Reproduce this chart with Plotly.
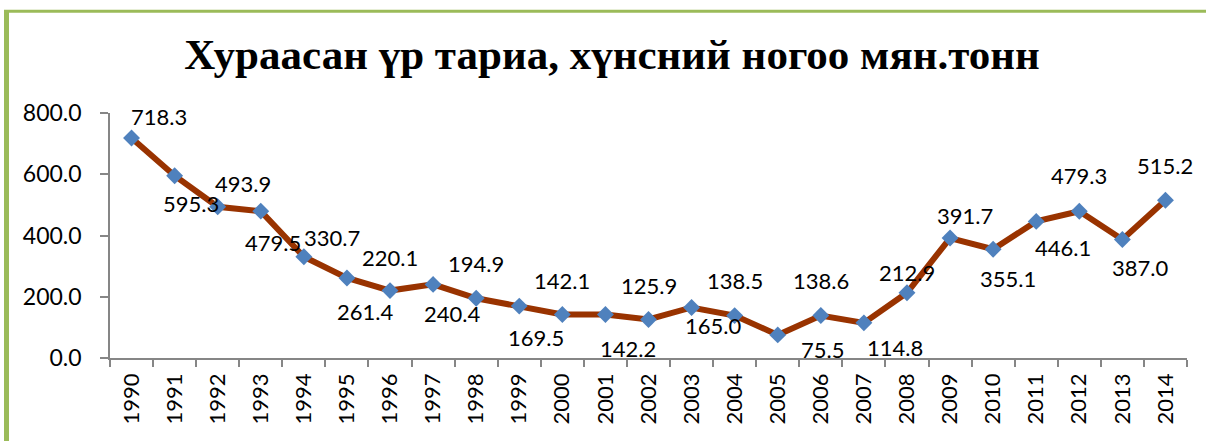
import plotly.graph_objects as go

years = [str(y) for y in range(1990, 2015)]
values = [718.3, 595.3, 493.9, 479.5, 330.7, 261.4, 220.1, 240.4, 194.9, 169.5,
          142.1, 142.2, 125.9, 165.0, 138.5, 75.5, 138.6, 114.8, 212.9, 391.7,
          355.1, 446.1, 479.3, 387.0, 515.2]
title_text = "Хураасан үр тариа, хүнсний ногоо мян.тонн"
y_ticks = [0, 200, 400, 600, 800]

# label offsets in pixels (dx right, dy down) — styling of the data labels
label_dx = [27, 16, 25, 12, 28, 18, 0, 19, 0, 17, 0, 23, 0, 21, 0, 45, 0, 31, 0, 15, 15, 27, 0, 18, 0]
label_dy = [-22, 28, -23, 31, -19, 34, -33, 29, -35, 31, -34, 34, -34, 18, -35, 15, -35, 25, -20, -23, 29, 26, -36, 28, -35]

FONT = "Lato"
W, H = 1206, 441
L, R, T, B = 110, 19, 112.5, 83

fig = go.Figure()
fig.add_trace(go.Scatter(
    x=years, y=values, mode="lines+markers",
    line=dict(color="#993300", width=6),
    marker=dict(symbol="diamond", size=13, color="#4F81BD",
                line=dict(width=0)),
    hoverinfo="x+y", showlegend=False,
))

for i, (v, dx, dy) in enumerate(zip(values, label_dx, label_dy)):
    fig.add_annotation(x=i, y=v, xref="x", yref="y", text=f"{v:.1f}", showarrow=False,
                       xshift=dx, yshift=-dy, xanchor="center", yanchor="middle",
                       font=dict(family=FONT, size=22, color="#000000"))

pw = W - L - R
ph = H - T - B
def px_to_paper_x(px):
    return (px - L) / pw
def px_to_paper_y(py):
    return (H - B - py) / ph

border = "#9BBB59"
fig.add_shape(type="line", xref="paper", yref="paper",
              x0=px_to_paper_x(6.5), x1=px_to_paper_x(6.5),
              y0=px_to_paper_y(10.5), y1=px_to_paper_y(460),
              line=dict(color=border, width=5), layer="above")
fig.add_shape(type="line", xref="paper", yref="paper",
              x0=px_to_paper_x(4), x1=px_to_paper_x(1230),
              y0=px_to_paper_y(10.5), y1=px_to_paper_y(10.5),
              line=dict(color=border, width=3), layer="above")

fig.update_layout(
    width=W, height=H,
    margin=dict(l=L, r=R, t=T, b=B, pad=0),
    paper_bgcolor="white", plot_bgcolor="white",
    title=dict(text=title_text, xref="container", yref="container",
               x=612 / W, y=1 - 54 / H, xanchor="center", yanchor="middle",
               font=dict(family="Liberation Serif", size=43, color="#000000",
                         weight="bold")),
    xaxis=dict(type="category", range=[-0.5, 24.5], tickangle=-90,
               showline=True, linecolor="#868686", linewidth=1.5,
               ticks="outside", ticklen=7, tickcolor="#868686", tickwidth=1.5,
               tickson="boundaries", showgrid=False, zeroline=False,
               ticklabelstandoff=5,
               tickfont=dict(family=FONT, size=22, color="#000000")),
    yaxis=dict(range=[0, 800], tickvals=y_ticks, tickformat=".1f",
               showline=True, linecolor="#868686", linewidth=1.5,
               ticks="outside", ticklen=8, tickcolor="#868686", tickwidth=1.5,
               showgrid=False, zeroline=False, ticklabelstandoff=14,
               tickfont=dict(family=FONT, size=23, color="#000000")),
)

fig.write_html("out.html", config={"displayModeBar": False},
               post_script="document.body.style.margin='0';document.body.style.overflow='hidden';")
